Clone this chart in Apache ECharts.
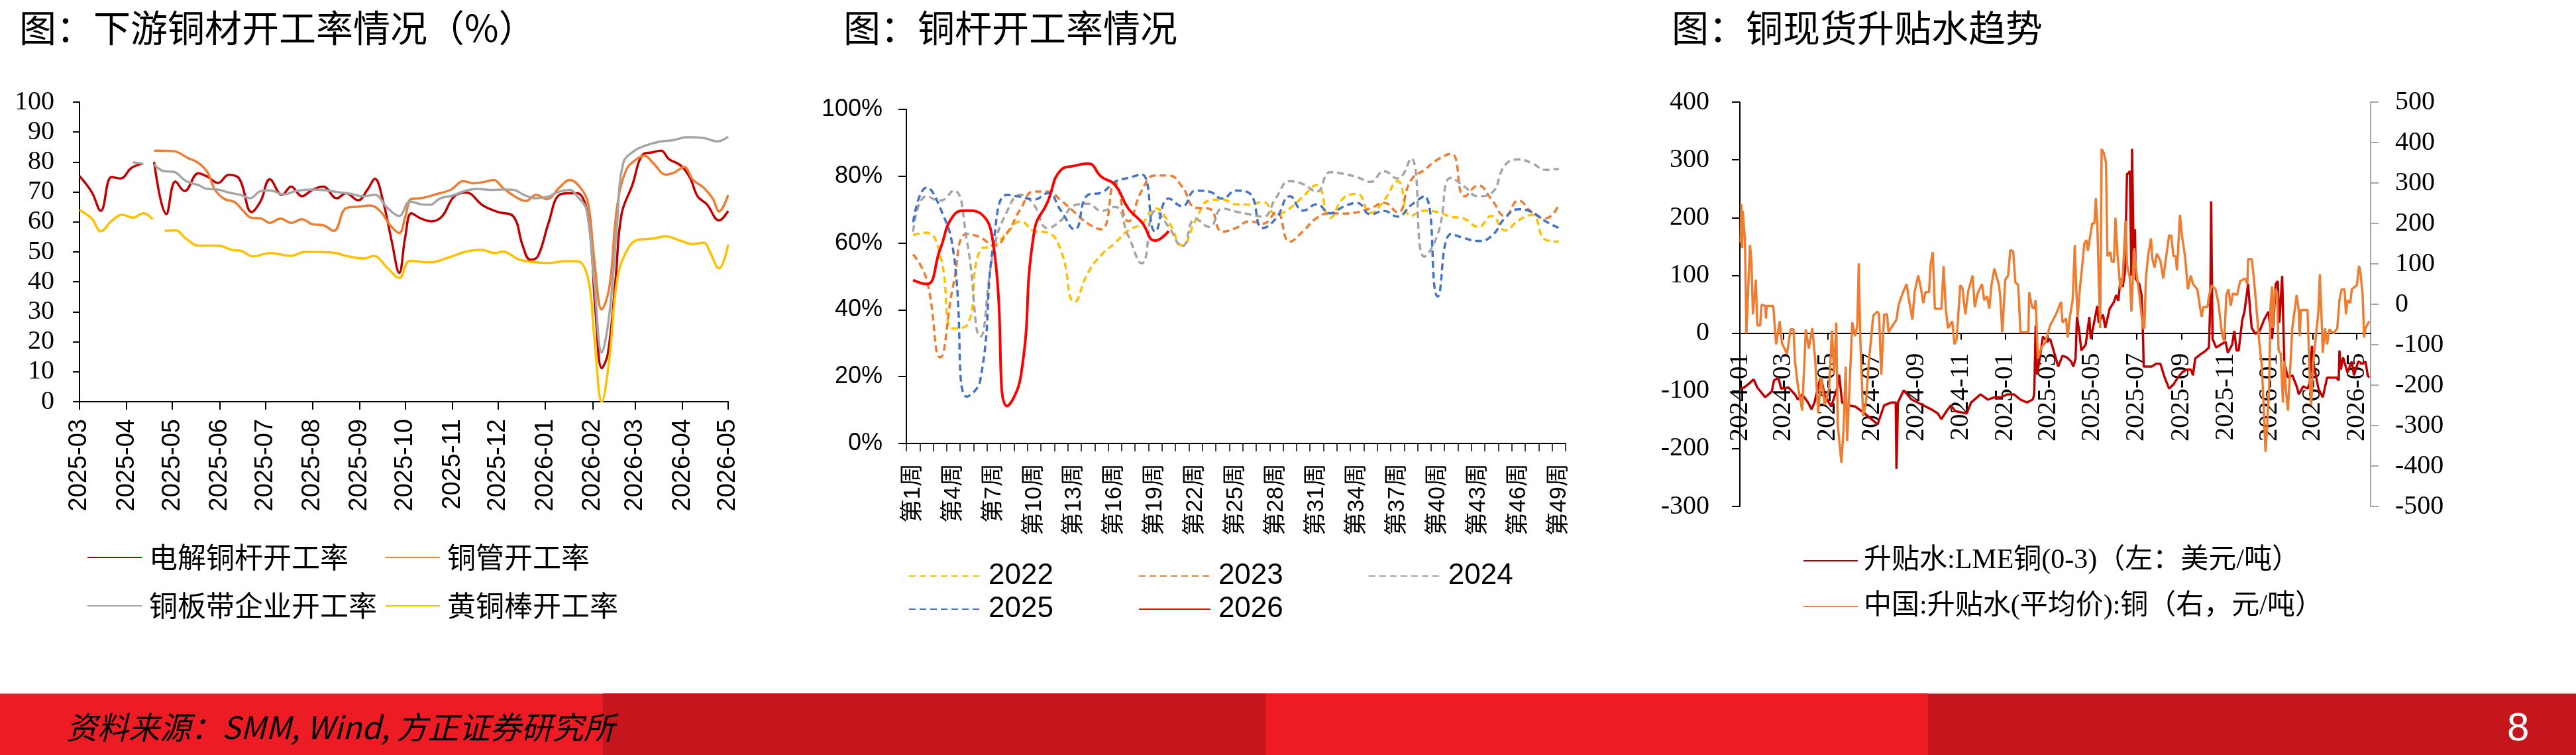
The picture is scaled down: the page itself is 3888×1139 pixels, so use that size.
<!DOCTYPE html>
<html>
<head>
<meta charset="utf-8">
<script src="https://cdn.jsdelivr.net/npm/echarts@6/dist/echarts.min.js"></script>
<style>
html, body { margin: 0; padding: 0; background: #fff; }
#chart { width: 3888px; height: 1139px; }
</style>
</head>
<body>
<div id="chart"></div>
<script>
const CJK = '"Noto Sans CJK SC", sans-serif'
const SERIF = '"Liberation Serif", "Times New Roman", "Noto Sans CJK SC", serif'
const SANS = '"Liberation Sans", Arial, "Noto Sans CJK SC", sans-serif'

// ---- 图1：下游铜材开工率 ----
const p1Ticks = ['2025-03-01', '2025-04-01', '2025-05-01', '2025-06-01', '2025-07-01', '2025-08-01', '2025-09-01',
  '2025-10-01', '2025-11-01', '2025-12-01', '2026-01-01', '2026-02-01', '2026-03-01', '2026-04-01', '2026-05-01']

const rodRate = [
  ['2025-03-01', 75.3], ['2025-03-09', 70], ['2025-03-15', 63.7], ['2025-03-22', 75], ['2025-03-28', 74.5],
  ['2025-04-04', 78], ['2025-04-11', 79.4], ['2025-04-15', '-'], ['2025-04-19', 80], ['2025-04-27', 62.6],
  ['2025-05-03', 73.5], ['2025-05-09', 70.3], ['2025-05-18', 76.2], ['2025-05-24', 75.1], ['2025-05-31', 73],
  ['2025-06-07', 75.7], ['2025-06-14', 74.4], ['2025-06-22', 63.3], ['2025-06-28', 67], ['2025-07-04', 74.2],
  ['2025-07-12', 69], ['2025-07-18', 71.8], ['2025-07-25', 68.6], ['2025-08-01', 70.7], ['2025-08-08', 71.8],
  ['2025-08-17', 67.9], ['2025-08-23', 69.6], ['2025-08-31', 67.2], ['2025-09-06', 70.7], ['2025-09-11', 74.4],
  ['2025-09-16', 67.7], ['2025-09-22', 53.7], ['2025-09-27', 43], ['2025-10-01', 55.2], ['2025-10-05', 62.9],
  ['2025-10-11', 61.2], ['2025-10-18', 60.2], ['2025-10-25', 61.8], ['2025-11-02', 68.5], ['2025-11-10', 69.8],
  ['2025-11-21', 65.5], ['2025-12-01', 63.3], ['2025-12-11', 61.8], ['2025-12-17', 52.2], ['2025-12-22', 47.4],
  ['2025-12-27', 48.5], ['2026-01-03', 59.6], ['2026-01-10', 69], ['2026-01-17', 69.6], ['2026-01-22', 69.6],
  ['2026-01-29', 61.8], ['2026-02-03', 29.3], ['2026-02-07', 11.2], ['2026-02-11', 16], ['2026-02-16', 40.4],
  ['2026-02-20', 62.6], ['2026-02-27', 72.2], ['2026-03-06', 82.5], ['2026-03-12', 83.2], ['2026-03-18', 83.8],
  ['2026-03-23', 81], ['2026-03-31', 78.8], ['2026-04-06', 74.7], ['2026-04-11', 68.5], ['2026-04-17', 65.9],
  ['2026-04-25', 60.5], ['2026-05-01', 63.7]
]
const tubeRate = [
  ['2025-04-19', 83.8], ['2025-05-02', 83.6], ['2025-05-11', 81.4], ['2025-05-18', 79.7], ['2025-05-24', 76.6],
  ['2025-05-29', 70.7], ['2025-06-04', 67.7], ['2025-06-11', 66.6], ['2025-06-16', 64], ['2025-06-22', 61.4],
  ['2025-06-28', 61.2], ['2025-07-04', 59.7], ['2025-07-11', 61.1], ['2025-07-18', 59.7], ['2025-07-25', 60.9],
  ['2025-08-01', 59.2], ['2025-08-08', 58.9], ['2025-08-15', 57], ['2025-08-23', 64.6], ['2025-08-31', 65.1],
  ['2025-09-08', 65.5], ['2025-09-15', 63.3], ['2025-09-21', 58.9], ['2025-09-27', 56.3], ['2025-10-01', 61.8],
  ['2025-10-05', 67.7], ['2025-10-11', 67.9], ['2025-10-21', 69.2], ['2025-10-31', 70.8], ['2025-11-08', 73.6],
  ['2025-11-15', 72.9], ['2025-11-21', 73.3], ['2025-11-28', 74], ['2025-12-04', 71.4], ['2025-12-11', 68.8],
  ['2025-12-19', 67], ['2025-12-26', 69], ['2026-01-02', 67.6], ['2026-01-10', 71.4], ['2026-01-17', 74],
  ['2026-01-24', 71.4], ['2026-01-29', 66.2], ['2026-02-02', 47.8], ['2026-02-07', 30.8], ['2026-02-12', 38.2],
  ['2026-02-17', 64.8], ['2026-02-23', 77.3], ['2026-03-02', 81], ['2026-03-07', 82.1], ['2026-03-13', 79.5],
  ['2026-03-21', 75.8], ['2026-03-27', 76.6], ['2026-04-02', 78.4], ['2026-04-08', 74], ['2026-04-15', 71.4],
  ['2026-04-21', 67.7], ['2026-04-25', 63.5], ['2026-05-01', 69]
]
const sheetRate = [
  ['2025-04-05', 79.9], ['2025-04-12', 79.4], ['2025-04-15', '-'], ['2025-04-19', 79.2], ['2025-04-25', 77],
  ['2025-05-02', 76.7], ['2025-05-10', 73.6], ['2025-05-18', 72.3], ['2025-05-24', 71], ['2025-05-31', 70.8],
  ['2025-06-07', 69.8], ['2025-06-15', 69], ['2025-06-21', 67.9], ['2025-06-28', 70.3], ['2025-07-04', 70.5],
  ['2025-07-13', 69.2], ['2025-07-21', 70.3], ['2025-07-31', 70.8], ['2025-08-10', 70.5], ['2025-08-18', 69.9],
  ['2025-08-26', 69.4], ['2025-09-03', 68.6], ['2025-09-11', 69], ['2025-09-19', 64.8], ['2025-09-27', 62],
  ['2025-10-04', 66.8], ['2025-10-11', 65.9], ['2025-10-17', 65.7], ['2025-10-24', 67.9], ['2025-11-01', 68.8],
  ['2025-11-09', 70.3], ['2025-11-17', 71], ['2025-11-26', 70.7], ['2025-12-04', 70.8], ['2025-12-11', 70.7],
  ['2025-12-18', 69], ['2025-12-26', 67.9], ['2026-01-03', 68.5], ['2026-01-10', 70.1], ['2026-01-17', 70.7],
  ['2026-01-22', 68.5], ['2026-01-28', 64], ['2026-02-02', 40.4], ['2026-02-07', 16.4], ['2026-02-12', 29.3],
  ['2026-02-17', 58.9], ['2026-02-21', 79.5], ['2026-02-28', 83.6], ['2026-03-09', 85.7], ['2026-03-17', 86.8],
  ['2026-03-26', 87.3], ['2026-04-04', 88.3], ['2026-04-15', 88], ['2026-04-24', 86.9], ['2026-05-01', 88.4]
]
const brassRate = [
  ['2025-03-01', 64], ['2025-03-09', 61.1], ['2025-03-15', 56.9], ['2025-03-22', 60.3], ['2025-03-29', 62.4],
  ['2025-04-05', 61.4], ['2025-04-12', 62.9], ['2025-04-18', 60.9], ['2025-04-22', '-'], ['2025-04-26', 57],
  ['2025-05-03', 57.2], ['2025-05-10', 54.4], ['2025-05-18', 52.1], ['2025-05-31', 52.1], ['2025-06-09', 50.7],
  ['2025-06-15', 50.4], ['2025-06-23', 48.5], ['2025-07-04', 49.6], ['2025-07-18', 48.7], ['2025-07-27', 50],
  ['2025-08-14', 49.8], ['2025-08-23', 48.7], ['2025-09-04', 47.8], ['2025-09-10', 48.7], ['2025-09-19', 44.8],
  ['2025-09-27', 41.3], ['2025-10-04', 47], ['2025-10-17', 46.5], ['2025-10-31', 48.4], ['2025-11-09', 50],
  ['2025-11-20', 50.7], ['2025-11-29', 49.6], ['2025-12-04', 50.1], ['2025-12-14', 47.6], ['2025-12-22', 46.7],
  ['2026-01-03', 46.3], ['2026-01-14', 46.9], ['2026-01-22', 46.9], ['2026-01-29', 41.1], ['2026-02-02', 21.9],
  ['2026-02-07', 0], ['2026-02-12', 14.5], ['2026-02-17', 40.4], ['2026-02-23', 50], ['2026-03-03', 54.1],
  ['2026-03-12', 54.4], ['2026-03-21', 55.2], ['2026-03-31', 53.7], ['2026-04-08', 52.6], ['2026-04-15', 53.1],
  ['2026-04-19', 50], ['2026-04-25', 44.5], ['2026-05-01', 52.4]
]

// ---- 图2：铜杆开工率（周度，%） ----
const weekCats = Array.from({ length: 49 }, (_, i) => '第' + (i + 1) + '周')
const rod2022 = [62.4, 63.1, 56.6, 34.4, 35.4, 58, 59.2, 63.1, 66.5, 63.6, 63.1, 57.6, 42.4, 51.1, 56.5, 60, 63.8,
  65.8, 70.4, 66.2, 59.3, 66.8, 72.7, 73, 71.6, 71.5, 72.3, 68.6, 70.4, 74, 77.4, 67.5, 73.5, 74.7, 69, 72.7, 78.5,
  68.1, 69.7, 69.2, 67.9, 67.2, 64.8, 68.1, 63.8, 66.8, 68.4, 61, 60.4]
const rod2023 = [56.6, 49.1, 25.8, 47.7, 62.7, 61.7, 59.2, 63.1, 70.3, 75.4, 75.4, 72.7, 69.2, 65.8, 64.1, 78.1,
  66.5, 75.7, 80.2, 80.2, 76.8, 70.6, 70.3, 63.4, 64.5, 66.5, 65.8, 69.2, 60.4, 63.6, 67.5, 68.9, 68.8, 69.2, 70.4,
  72, 69.2, 78.8, 81.9, 85, 86.7, 74, 77.2, 73, 68.1, 72.7, 69.2, 67.4, 71.5]
const rod2024 = [63.4, 74, 72.7, 75.7, 60.7, 32, 58, 69.6, 74.4, 71.3, 64.5, 66.8, 71.3, 71.8, 69.6, 70.8, 62.1,
  53.9, 69.6, 64.8, 59, 67.2, 64.8, 70.3, 69.4, 68.6, 67.9, 73.7, 78.5, 77.6, 75.4, 81.2, 80.7, 79.7, 78.3, 81.5,
  79.3, 85.3, 55.9, 62.7, 79.5, 76.8, 74, 75, 83.3, 85, 83.9, 81.9, 82.2]
const rod2025 = [66.2, 76.6, 70.6, 57.3, 14, 19, 60.7, 74.4, 73.8, 73, 74.9, 69.6, 64.1, 74.4, 75.1, 78.3, 79.5,
  80.5, 63.4, 73.3, 71, 75.7, 75.4, 73.3, 75.7, 74.9, 64.5, 67.5, 74, 69.7, 71.6, 68.9, 70.9, 72, 68.6, 69.6, 67.9,
  71.3, 74, 44, 62.7, 61.4, 60.6, 62.1, 67.5, 70.1, 69.2, 66.5, 64.5]
const rod2026 = [48.9, 47.7, 58, 68.2, 69.7, 68.9, 58.6, 11.2, 20, 63.4, 72.3, 81.9, 83.1, 83.8, 79.8, 77.4, 70.3,
  66.2, 60.7, 63.6]

// ---- 图3：铜现货升贴水 ----
const p3Ticks = ['2024-01-01', '2024-03-01', '2024-05-01', '2024-07-01', '2024-09-01', '2024-11-01', '2025-01-01',
  '2025-03-01', '2025-05-01', '2025-07-01', '2025-09-01', '2025-11-01', '2026-01-01', '2026-03-01', '2026-05-01']

const lmeSpread = [
  ['2024-01-02', -96], ['2024-01-07', -94], ['2024-01-14', -87], ['2024-01-20', -80], ['2024-01-25', -94],
  ['2024-02-05', -111], ['2024-02-14', -101], ['2024-02-17', -82], ['2024-02-23', -77], ['2024-02-27', -96],
  ['2024-03-08', -94], ['2024-03-17', -106], ['2024-03-21', -115], ['2024-03-27', -106], ['2024-04-04', -120],
  ['2024-04-09', -132], ['2024-04-13', -120], ['2024-04-19', -87], ['2024-04-22', -77], ['2024-04-27', -108],
  ['2024-05-06', -127], ['2024-05-14', -96], ['2024-05-17', -72], ['2024-05-21', -120], ['2024-05-30', -125],
  ['2024-06-08', -127], ['2024-06-17', -135], ['2024-06-26', -144], ['2024-07-09', -158], ['2024-07-18', -125],
  ['2024-07-28', -120], ['2024-08-03', -120], ['2024-08-04', -235], ['2024-08-06', -120], ['2024-08-14', -99],
  ['2024-08-25', -115], ['2024-09-07', -123], ['2024-09-21', -132], ['2024-09-30', -139], ['2024-10-05', -149],
  ['2024-10-12', -135], ['2024-10-18', -125], ['2024-10-24', -135], ['2024-11-09', -139], ['2024-11-15', -120],
  ['2024-11-28', -106], ['2024-12-08', -115], ['2024-12-17', -111], ['2024-12-26', -111], ['2025-01-04', -106],
  ['2025-01-13', -106], ['2025-01-22', -115], ['2025-01-31', -120], ['2025-02-08', -115], ['2025-02-10', -106],
  ['2025-02-12', 13], ['2025-02-14', -72], ['2025-02-17', -49], ['2025-02-22', -6], ['2025-02-28', -15],
  ['2025-03-04', -10], ['2025-03-12', -44], ['2025-03-15', -58], ['2025-03-21', -39], ['2025-03-27', -42],
  ['2025-04-02', -49], ['2025-04-05', -58], ['2025-04-08', -44], ['2025-04-10', 28], ['2025-04-13', 4],
  ['2025-04-16', -30], ['2025-04-22', -20], ['2025-04-27', 28], ['2025-04-29', -10], ['2025-05-04', 21],
  ['2025-05-08', 47], ['2025-05-10', 18], ['2025-05-16', 32], ['2025-05-19', 9], ['2025-05-25', 42],
  ['2025-05-31', 54], ['2025-06-03', 66], ['2025-06-06', 56], ['2025-06-09', 94], ['2025-06-12', 80],
  ['2025-06-15', 104], ['2025-06-18', 276], ['2025-06-20', 276], ['2025-06-22', 281], ['2025-06-24', 99],
  ['2025-06-25', 319], ['2025-06-27', 142], ['2025-06-29', 180], ['2025-06-30', 94], ['2025-07-05', 85],
  ['2025-07-08', 66], ['2025-07-10', -1], ['2025-07-11', -58], ['2025-07-16', -58], ['2025-07-22', -58],
  ['2025-07-28', -53], ['2025-08-03', -53], ['2025-08-09', -77], ['2025-08-15', -96], ['2025-08-21', -89],
  ['2025-08-27', -77], ['2025-09-02', -68], ['2025-09-08', -63], ['2025-09-14', -63], ['2025-09-17', -73],
  ['2025-09-20', -44], ['2025-09-27', -37], ['2025-10-03', -32], ['2025-10-09', -25], ['2025-10-11', 61],
  ['2025-10-12', 228], ['2025-10-14', -10], ['2025-10-19', -25], ['2025-10-25', -20], ['2025-11-01', -15],
  ['2025-11-04', -34], ['2025-11-10', -20], ['2025-11-13', 4], ['2025-11-16', -30], ['2025-11-19', -30],
  ['2025-11-24', 23], ['2025-11-27', 37], ['2025-12-02', 85], ['2025-12-05', 37], ['2025-12-07', 9],
  ['2025-12-12', -1], ['2025-12-18', 4], ['2025-12-24', 23], ['2025-12-30', 37], ['2026-01-02', 9],
  ['2026-01-04', -10], ['2026-01-06', 18], ['2026-01-09', 85], ['2026-01-12', 90], ['2026-01-14', 18],
  ['2026-01-16', 56], ['2026-01-18', 99], ['2026-01-19', 99], ['2026-01-21', -53], ['2026-01-26', -77],
  ['2026-02-01', -73], ['2026-02-07', -92], ['2026-02-10', -106], ['2026-02-16', -92], ['2026-02-22', -96],
  ['2026-02-25', -87], ['2026-02-28', -22], ['2026-03-03', -58], ['2026-03-09', -96], ['2026-03-15', -111],
  ['2026-03-21', -77], ['2026-03-27', -77], ['2026-04-03', -77], ['2026-04-06', -82], ['2026-04-07', -30],
  ['2026-04-09', -63], ['2026-04-12', -42], ['2026-04-18', -68], ['2026-04-24', -49], ['2026-04-27', -73],
  ['2026-05-03', -49], ['2026-05-09', -53], ['2026-05-13', -49], ['2026-05-16', -73], ['2026-05-18', -77]
]
const cnSpread = [
  ['2024-01-02', 153], ['2024-01-03', 248], ['2024-01-04', 139], ['2024-01-05', 231], ['2024-01-08', 159],
  ['2024-01-10', -72], ['2024-01-11', -72], ['2024-01-15', 146], ['2024-01-17', 105], ['2024-01-19', -25],
  ['2024-01-23', 61], ['2024-01-25', -52], ['2024-01-29', -52], ['2024-01-31', -1], ['2024-02-05', -4],
  ['2024-02-06', -35], ['2024-02-07', -4], ['2024-02-16', -4], ['2024-02-20', -99], ['2024-02-25', -42],
  ['2024-02-28', -96], ['2024-03-06', -123], ['2024-03-11', -62], ['2024-03-15', -62], ['2024-03-17', -140],
  ['2024-03-21', -202], ['2024-03-27', -263], ['2024-04-01', -62], ['2024-04-05', -110], ['2024-04-10', -59],
  ['2024-04-14', -140], ['2024-04-18', -270], ['2024-04-22', -181], ['2024-04-27', -249], ['2024-05-03', -208],
  ['2024-05-07', -65], ['2024-05-10', -174], ['2024-05-13', -45], ['2024-05-15', -297], ['2024-05-20', -392],
  ['2024-05-23', -311], ['2024-05-26', -154], ['2024-05-28', -338], ['2024-06-01', -174], ['2024-06-04', -45],
  ['2024-06-08', -79], ['2024-06-11', -52], ['2024-06-13', 101], ['2024-06-15', -79], ['2024-06-19', -277],
  ['2024-06-23', -243], ['2024-06-27', -140], ['2024-07-03', -28], ['2024-07-09', -18], ['2024-07-11', -25],
  ['2024-07-14', -174], ['2024-07-18', -25], ['2024-07-22', -25], ['2024-07-24', -69], ['2024-07-30', -52],
  ['2024-08-04', -38], ['2024-08-07', -1], ['2024-08-13', 30], ['2024-08-18', 50], ['2024-08-22', 3],
  ['2024-08-26', -38], ['2024-08-29', 30], ['2024-09-03', 71], ['2024-09-07', 37], ['2024-09-10', 3],
  ['2024-09-13', 30], ['2024-09-18', 30], ['2024-09-20', 98], ['2024-09-23', 129], ['2024-09-26', -11],
  ['2024-10-05', -11], ['2024-10-08', 95], ['2024-10-11', -11], ['2024-10-14', -59], ['2024-10-20', -42],
  ['2024-10-23', -99], ['2024-10-26', -86], ['2024-10-31', 47], ['2024-11-03', 40], ['2024-11-07', -25],
  ['2024-11-11', 33], ['2024-11-17', 71], ['2024-11-20', -7], ['2024-11-24', 27], ['2024-11-30', 50],
  ['2024-12-03', 10], ['2024-12-07', 20], ['2024-12-10', -11], ['2024-12-13', 47], ['2024-12-17', 88],
  ['2024-12-23', 50], ['2024-12-25', 23], ['2024-12-28', -69], ['2025-01-01', 61], ['2025-01-05', 71],
  ['2025-01-08', 134], ['2025-01-12', 131], ['2025-01-15', 54], ['2025-01-19', 47], ['2025-01-22', -69],
  ['2025-02-02', -69], ['2025-02-03', 30], ['2025-02-07', -7], ['2025-02-10', -11], ['2025-02-12', 10],
  ['2025-02-15', -134], ['2025-02-20', -106], ['2025-02-25', -96], ['2025-03-04', -52], ['2025-03-12', -25],
  ['2025-03-19', 6], ['2025-03-21', -45], ['2025-03-26', -35], ['2025-03-28', -82], ['2025-03-31', -33],
  ['2025-04-04', 10], ['2025-04-07', 146], ['2025-04-09', 37], ['2025-04-11', -31], ['2025-04-14', 40],
  ['2025-04-17', 91], ['2025-04-20', 149], ['2025-04-23', 159], ['2025-04-25', 132], ['2025-04-28', 166],
  ['2025-05-01', 200], ['2025-05-04', 200], ['2025-05-06', 262], ['2025-05-08', 200], ['2025-05-10', 64],
  ['2025-05-12', -59], ['2025-05-14', 384], ['2025-05-17', 374], ['2025-05-20', 350], ['2025-05-22', 119],
  ['2025-05-26', 129], ['2025-05-28', 105], ['2025-05-31', 105], ['2025-06-02', 214], ['2025-06-05', 119],
  ['2025-06-09', 37], ['2025-06-12', 64], ['2025-06-16', 207], ['2025-06-18', 98], ['2025-06-22', 64],
  ['2025-06-24', -18], ['2025-06-28', 139], ['2025-07-01', 78], ['2025-07-05', 23], ['2025-07-10', -59],
  ['2025-07-12', -59], ['2025-07-14', 64], ['2025-07-17', 119], ['2025-07-21', 163], ['2025-07-23', 112],
  ['2025-07-26', 91], ['2025-07-29', 125], ['2025-08-03', 108], ['2025-08-07', 64], ['2025-08-10', 105],
  ['2025-08-15', 170], ['2025-08-18', 170], ['2025-08-21', 119], ['2025-08-24', 119], ['2025-08-26', 84],
  ['2025-08-30', 221], ['2025-09-02', 166], ['2025-09-06', 119], ['2025-09-10', 37], ['2025-09-14', 71],
  ['2025-09-17', 50], ['2025-09-23', 37], ['2025-09-27', -11], ['2025-09-29', -31], ['2025-10-01', -7],
  ['2025-10-07', -7], ['2025-10-09', 20], ['2025-10-13', 47], ['2025-10-18', 37], ['2025-10-22', 3],
  ['2025-10-27', -72], ['2025-10-30', -93], ['2025-11-02', 23], ['2025-11-05', 37], ['2025-11-08', -4],
  ['2025-11-11', 27], ['2025-11-17', 23], ['2025-11-21', 57], ['2025-11-28', 64], ['2025-12-01', 50],
  ['2025-12-02', 112], ['2025-12-07', 112], ['2025-12-10', 64], ['2025-12-13', 3], ['2025-12-17', -86],
  ['2025-12-21', -154], ['2025-12-24', -277], ['2025-12-26', -365], ['2025-12-28', -311], ['2025-12-31', -208],
  ['2026-01-02', -4], ['2026-01-04', 44], ['2026-01-05', -59], ['2026-01-08', 37], ['2026-01-11', 30],
  ['2026-01-13', -113], ['2026-01-16', -123], ['2026-01-19', -243], ['2026-01-21', -140], ['2026-01-23', -208],
  ['2026-01-26', -263], ['2026-01-29', -161], ['2026-02-01', -59], ['2026-02-05', -4], ['2026-02-07', 23],
  ['2026-02-10', -18], ['2026-02-11', -79], ['2026-02-13', -14], ['2026-02-22', -14], ['2026-02-25', -181],
  ['2026-02-27', -249], ['2026-03-02', -140], ['2026-03-06', -72], ['2026-03-09', -18], ['2026-03-11', 74],
  ['2026-03-13', -18], ['2026-03-15', -120], ['2026-03-18', -59], ['2026-03-21', -99], ['2026-03-24', -62],
  ['2026-03-30', -72], ['2026-04-04', -59], ['2026-04-07', 10], ['2026-04-10', 37], ['2026-04-14', 37],
  ['2026-04-16', -25], ['2026-04-18', 10], ['2026-04-22', 3], ['2026-04-24', 37], ['2026-05-01', 47],
  ['2026-05-04', 95], ['2026-05-06', 78], ['2026-05-09', 23], ['2026-05-11', -82], ['2026-05-13', -59],
  ['2026-05-18', -42]
]

// 日期 -> 时间戳（x 轴用数值轴承载时间，刻度按月初自定义）
const ts = s => echarts.time.parse(s).getTime()
const fmtYM = v => echarts.time.format(v, '{yyyy}-{MM}', false)
const toXY = rows => rows.map(([d, v]) => [ts(d), v])
const p1TickVals = p1Ticks.map(ts)
const p3TickVals = p3Ticks.map(ts)

// 图3 的 x 轴画在左轴 0 值处：左轴 -300~400，网格高 610
const p3GridTop = 154
const p3GridH = 610
const p3ZeroOffset = -p3GridH * 300 / 700

const blackLine = { color: '#000', width: 2 }
const legendText = (font, size, lh, gap) => ({
  fontFamily: font, fontSize: size, lineHeight: lh, color: '#000', padding: [0, 0, 0, gap]
})

const chart = echarts.init(document.getElementById('chart'), null, { renderer: 'canvas' })

const titleStyle = { fontFamily: CJK, fontSize: 56, fontWeight: 'normal', color: '#000', lineHeight: 62 }

const weekLine = (name, data, color, dashed) => ({
  name, type: 'line', xAxisIndex: 1, yAxisIndex: 1, data, smooth: 0.5, symbol: 'none',
  lineStyle: { color, width: dashed ? 3.5 : 4, type: dashed ? [10, 6] : 'solid' },
  itemStyle: { color },
})
const rateLine = (name, data, color) => ({
  name, type: 'line', xAxisIndex: 0, yAxisIndex: 0, data: toXY(data), smooth: 0.4, symbol: 'none',
  lineStyle: { color, width: 3.5 }, itemStyle: { color },
})

const option = {
  animation: false,
  backgroundColor: '#fff',
  title: [
    { text: '图：下游铜材开工率情况（%）', left: 29, top: 11, padding: 0, textStyle: titleStyle },
    { text: '图：铜杆开工率情况', left: 1273, top: 11, padding: 0, textStyle: titleStyle },
    { text: '图：铜现货升贴水趋势', left: 2523, top: 11, padding: 0, textStyle: titleStyle },
  ],
  grid: [
    { left: 120, top: 154, width: 979, height: 452, outerBoundsMode: 'none' },
    { left: 1368, top: 165, width: 995, height: 504, outerBoundsMode: 'none' },
    { left: 2626, top: p3GridTop, width: 952, height: p3GridH, outerBoundsMode: 'none' },
  ],
  legend: [
    {
      data: ['电解铜杆开工率', '铜板带企业开工率'], orient: 'vertical', left: 131, top: 816, padding: 0,
      itemWidth: 82, itemHeight: 14, itemGap: 23, itemStyle: { opacity: 0 },
      textStyle: legendText(CJK, 43, 50, 6),
    },
    {
      data: ['铜管开工率', '黄铜棒开工率'], orient: 'vertical', left: 581, top: 816, padding: 0,
      itemWidth: 82, itemHeight: 14, itemGap: 23, itemStyle: { opacity: 0 },
      textStyle: legendText(CJK, 43, 50, 6),
    },
    {
      data: ['2022', '2023', '2024'], orient: 'horizontal', left: 1371, top: 844, padding: 0,
      itemWidth: 108, itemHeight: 14, itemGap: 128, itemStyle: { opacity: 0 },
      textStyle: legendText(SANS, 44, 50, 7),
    },
    {
      data: ['2025', '2026'], orient: 'horizontal', left: 1371, top: 894, padding: 0,
      itemWidth: 108, itemHeight: 14, itemGap: 128, itemStyle: { opacity: 0 },
      textStyle: legendText(SANS, 44, 50, 7),
    },
    {
      data: ['升贴水:LME铜(0-3)（左：美元/吨）', '中国:升贴水(平均价):铜（右，元/吨）'], orient: 'vertical',
      left: 2721, top: 821, padding: 0, itemWidth: 82, itemHeight: 14, itemGap: 19, itemStyle: { opacity: 0 },
      textStyle: legendText(SERIF, 42, 50, 4),
    },
  ],
  xAxis: [
    {
      type: 'value', gridIndex: 0, min: ts('2025-03-01'), max: ts('2026-05-01'),
      axisLine: { onZero: false, lineStyle: blackLine },
      axisTick: { show: true, length: 12, customValues: p1TickVals, lineStyle: blackLine },
      axisLabel: {
        customValues: p1TickVals, rotate: 90, margin: 26, formatter: fmtYM,
        fontFamily: SANS, fontSize: 38, color: '#000',
      },
      splitLine: { show: false },
    },
    {
      type: 'category', gridIndex: 1, data: weekCats, boundaryGap: true,
      axisLine: { onZero: false, lineStyle: blackLine },
      axisTick: { show: true, interval: 0, length: 12, lineStyle: { color: '#000', width: 1.5 } },
      axisLabel: { interval: 2, rotate: 90, margin: 30, fontFamily: SANS, fontSize: 35, color: '#000' },
      splitLine: { show: false },
    },
    {
      type: 'value', gridIndex: 2, position: 'bottom', offset: p3ZeroOffset,
      min: ts('2024-01-01'), max: ts('2026-05-20'),
      axisLine: { onZero: false, lineStyle: blackLine },
      axisTick: { show: true, length: 10, customValues: p3TickVals, lineStyle: blackLine },
      axisLabel: {
        customValues: p3TickVals, rotate: 90, margin: 30, formatter: fmtYM,
        fontFamily: SERIF, fontSize: 40, color: '#000',
      },
      splitLine: { show: false },
    },
  ],
  yAxis: [
    {
      type: 'value', gridIndex: 0, min: 0, max: 100, interval: 10,
      axisLine: { show: true, lineStyle: blackLine },
      axisTick: { show: true, length: 10, lineStyle: blackLine },
      axisLabel: { margin: 38, fontFamily: SERIF, fontSize: 40, color: '#000' },
      splitLine: { show: false },
    },
    {
      type: 'value', gridIndex: 1, min: 0, max: 100, interval: 20,
      axisLine: { show: true, lineStyle: blackLine },
      axisTick: { show: true, length: 12, lineStyle: blackLine },
      axisLabel: { margin: 36, formatter: '{value}%', fontFamily: SANS, fontSize: 36, color: '#000' },
      splitLine: { show: false },
    },
    {
      type: 'value', gridIndex: 2, position: 'left', min: -300, max: 400, interval: 100,
      axisLine: { show: true, onZero: false, lineStyle: blackLine },
      axisTick: { show: true, length: 12, lineStyle: blackLine },
      axisLabel: { margin: 46, fontFamily: SERIF, fontSize: 40, color: '#000' },
      splitLine: { show: false },
    },
    {
      type: 'value', gridIndex: 2, position: 'right', min: -500, max: 500, interval: 100,
      axisLine: { show: true, onZero: false, lineStyle: { color: '#A6A6A6', width: 2 } },
      axisTick: { show: true, length: 12, lineStyle: { color: '#A6A6A6', width: 2 } },
      axisLabel: { margin: 37, fontFamily: SERIF, fontSize: 40, color: '#000' },
      splitLine: { show: false },
    },
  ],
  series: [
    rateLine('电解铜杆开工率', rodRate, '#C00000'),
    rateLine('铜管开工率', tubeRate, '#ED7D31'),
    rateLine('铜板带企业开工率', sheetRate, '#A5A5A5'),
    rateLine('黄铜棒开工率', brassRate, '#FFC000'),

    weekLine('2022', rod2022, '#FFC000', true),
    weekLine('2023', rod2023, '#ED7D31', true),
    weekLine('2024', rod2024, '#A5A5A5', true),
    weekLine('2025', rod2025, '#4472C4', true),
    weekLine('2026', rod2026, '#FF0000', false),

    {
      name: '升贴水:LME铜(0-3)（左：美元/吨）', type: 'line', xAxisIndex: 2, yAxisIndex: 2,
      data: toXY(lmeSpread), symbol: 'none', lineStyle: { color: '#C00000', width: 3.5 }, itemStyle: { color: '#C00000' },
    },
    {
      name: '中国:升贴水(平均价):铜（右，元/吨）', type: 'line', xAxisIndex: 2, yAxisIndex: 3,
      data: toXY(cnSpread), symbol: 'none', lineStyle: { color: '#ED7D31', width: 3.5 }, itemStyle: { color: '#ED7D31' },
    },
  ],
  graphic: [
    { type: 'rect', left: 0, top: 1046, shape: { width: 910, height: 93 }, style: { fill: '#ED1C24' } },
    { type: 'rect', left: 910, top: 1046, shape: { width: 1000, height: 93 }, style: { fill: '#C4161C' } },
    { type: 'rect', left: 1910, top: 1046, shape: { width: 1000, height: 93 }, style: { fill: '#ED1C24' } },
    { type: 'rect', left: 2910, top: 1046, shape: { width: 978, height: 93 }, style: { fill: '#C4161C' } },
    { type: 'rect', left: 0, top: 1045, shape: { width: 910, height: 2 }, style: { fill: '#F3A9AB' } },
    { type: 'rect', left: 2910, top: 1045, shape: { width: 978, height: 2 }, style: { fill: '#E8A0A2' } },
    {
      type: 'text', left: 100, top: 1074,
      style: { text: '资料来源：SMM, Wind, 方正证券研究所', font: 'italic 47px "Noto Sans CJK SC"', fill: '#000' },
    },
    {
      type: 'text', left: 3784, top: 1070,
      style: { text: '8', font: '60px "Liberation Sans"', fill: '#fff' },
    },
  ],
}

chart.setOption(option)
</script>
</body>
</html>
